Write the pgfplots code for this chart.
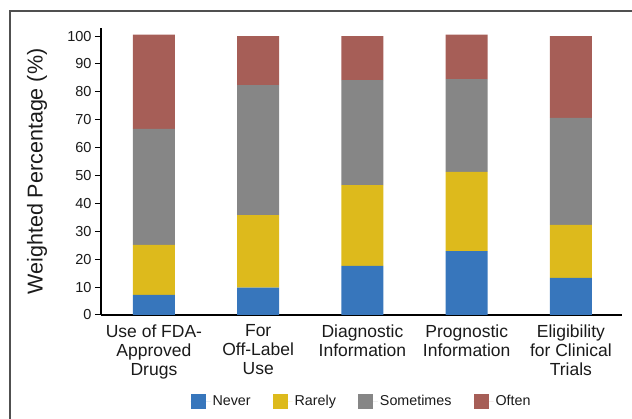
\documentclass[border=0pt]{standalone}
\usepackage{fontspec}
\setmainfont{Liberation Sans}
\usepackage{pgfplots}
\pgfplotsset{compat=1.18}

\definecolor{never}{HTML}{3776BC}
\definecolor{rarely}{HTML}{DDBA1C}
\definecolor{sometimes}{HTML}{868686}
\definecolor{often}{HTML}{A65E57}
\definecolor{framegray}{HTML}{505050}
\definecolor{txt}{HTML}{1A1A1A}

\begin{document}
\begin{tikzpicture}
\useasboundingbox (0pt,0pt) rectangle (632pt,419pt);
\begin{scope}
  \clip (0pt,0pt) rectangle (632pt,419pt);
  \draw[line width=2pt, framegray] (10pt,-10pt) -- (10pt,408pt) -- (650pt,408pt);
\end{scope}
\begin{axis}[
    at={(101pt,104pt)}, anchor=south west,
    scale only axis,
    width=521pt, height=287pt,
    ybar stacked,
    bar width=42pt,
    xmin=-0.508, xmax=4.49,
    ymin=0, ymax=102.9,
    axis x line=bottom, axis y line=left,
    axis line style={-, line width=1.4pt, black},
    xtick=data,
    xticklabels={Use of FDA-\\Approved\\Drugs, For\\Off-Label\\Use,
      Diagnostic\\Information, Prognostic\\Information,
      Eligibility\\for Clinical\\Trials},
    x tick style={draw=none},
    xticklabel style={align=center, font=\fontsize{17.5}{19}\selectfont, text=txt},
    ytick={0,10,...,100},
    tick align=outside,
    major tick length=6pt,
    y tick style={line width=1pt, black},
    yticklabel style={font=\fontsize{14.5}{17}\selectfont, text=txt},
    /pgf/number format/assume math mode=true,
    ylabel={Weighted Percentage (\%)},
    ylabel style={at={(axis description cs:-0.1228,0.5)}, anchor=center,
      font=\fontsize{21.5}{24}\selectfont, text=txt},
    legend columns=4,
    legend style={at={(0.5,-0.3014)}, anchor=center, draw=none,
      font=\fontsize{14.3}{16}\selectfont, text=txt,
      /tikz/every even column/.append style={column sep=20pt}},
    legend image code/.code={\fill[#1] (0pt,-7.5pt) rectangle (15pt,7.5pt);
      \path (0pt,0pt) -- (20pt,0pt);},
    ]
    \addplot[fill=never, draw=none] coordinates {(0,7.2) (1,9.8) (2,17.6) (3,22.9) (4,13.3)};
    \addplot[fill=rarely, draw=none] coordinates {(0,17.9) (1,26.0) (2,29.0) (3,28.4) (4,19.0)};
    \addplot[fill=sometimes, draw=none] coordinates {(0,41.6) (1,46.6) (2,37.6) (3,33.3) (4,38.4)};
    \addplot[fill=often, draw=none] coordinates {(0,33.8) (1,17.6) (2,15.8) (3,15.9) (4,29.3)};
    \legend{Never, Rarely, Sometimes, Often}
\end{axis}
\end{tikzpicture}
\end{document}
